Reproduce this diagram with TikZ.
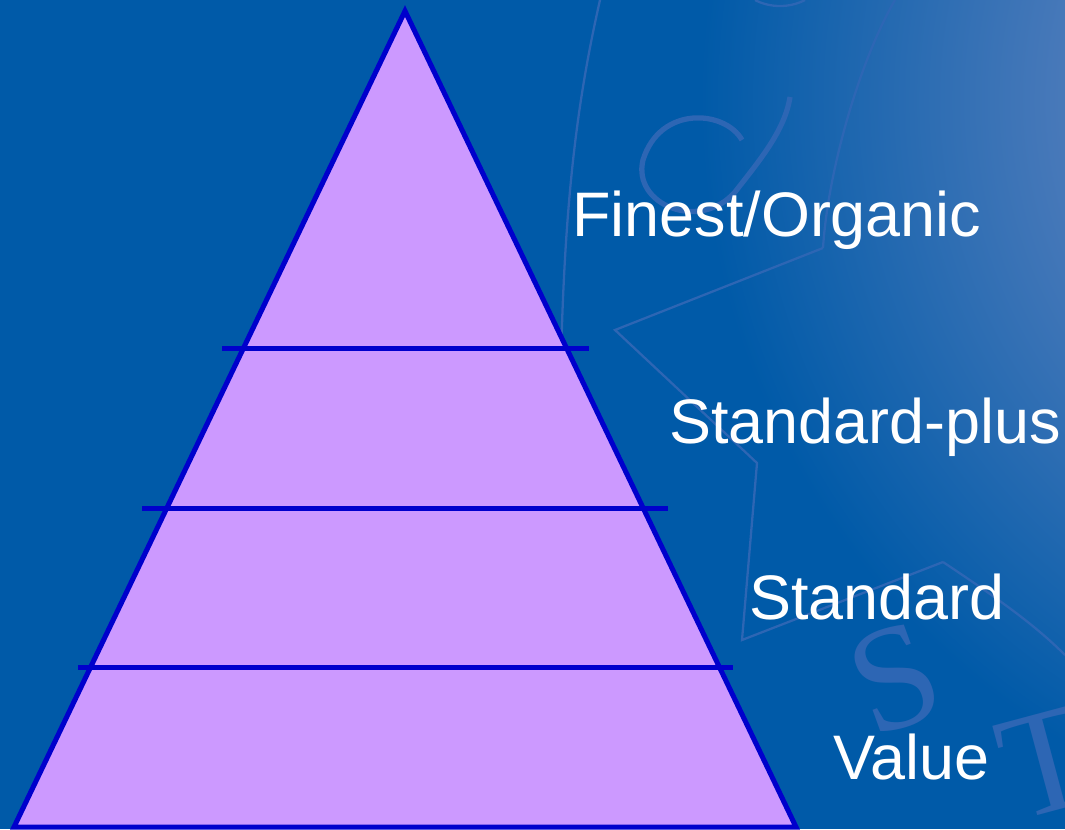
\documentclass[tikz,border=0pt]{standalone}
\usepackage{fontspec}
\setmainfont{Liberation Sans}
\newfontfamily\markfont{Liberation Serif}
\usetikzlibrary{positioning,calc}

\definecolor{bgblue}{RGB}{0,90,168}
\definecolor{glowblue}{RGB}{149,154,204}
\definecolor{markblue}{RGB}{45,102,180}
\definecolor{tierfill}{RGB}{204,153,255}
\definecolor{tierline}{RGB}{0,0,204}

\begin{document}
\begin{tikzpicture}[x=0.02cm, y=-0.02cm,
        tier/.style={draw=tierline, fill=tierfill, line width=2.85pt, line join=miter},
        divider/.style={draw=tierline, line width=2.85pt},
        label/.style={anchor=base west, inner sep=0pt, text=white, font=\fontsize{35.8}{40}\selectfont},
        wmline/.style={draw=markblue, line width=1.3pt},
        wmletter/.style={inner sep=0pt, text=markblue, font=\markfont\fontsize{85}{85}\selectfont}
    ]

    % Background with the light corner
    \useasboundingbox (0,0) rectangle (1065,829);
    \fill[bgblue] (0,0) rectangle (1065,829);
    \begin{scope}
        \clip (0,0) rectangle (1065,829);
        \shade[inner color=glowblue, outer color=bgblue] (1450,100) circle (750);
    \end{scope}

    % Faint watermark
    \draw[wmline] (600,0) .. controls (575,110) and (562,220) .. (560,420);
    \draw[wmline] (895,0) .. controls (860,60) and (828,170) .. (823,248);
    \draw[wmline] (755,0) .. controls (770,8) and (790,8) .. (805,0);
    \draw[wmline] (823,248) -- (615,330) -- (757,463) -- (742,640) -- (943,562);
    \draw[wmline] (943,562) .. controls (1000,600) and (1035,625) .. (1065,655);
    \draw[wmline, line width=3pt] (742,140) .. controls (725,110) and (660,105) .. (643,160)
        .. controls (632,205) and (700,232) .. (735,192) .. controls (760,160) and (785,130) .. (790,97);
    \node[wmletter, rotate=20] (wmS) at (895,679) {S};
    \node[wmletter, rotate=15] (wmT) at (1047,762) {T};

    % Pyramid
    \coordinate (apex) at (405,11);
    \coordinate (baseL) at (14,827);
    \coordinate (baseR) at (796,827);
    \draw[tier] (apex) -- (baseR) -- (baseL) -- cycle;

    % Tier dividers
    \coordinate (cutAl) at (222,348);
    \coordinate (cutAr) at (589,348);
    \coordinate (cutBl) at (142,508);
    \coordinate (cutBr) at (668,508);
    \coordinate (cutCl) at (78,667);
    \coordinate (cutCr) at (733,667);
    \draw[divider] (cutAl) -- (cutAr);
    \draw[divider] (cutBl) -- (cutBr);
    \draw[divider] (cutCl) -- (cutCr);

    % Tier names
    \node[label] (finest) at (572,236) {Finest/Organic};
    \node[label] (stdplus) at (669,443) {Standard-plus};
    \node[label] (standard) at (749,619) {Standard};
    \node[label] (value) at (833,779) {Value};

\end{tikzpicture}
\end{document}
